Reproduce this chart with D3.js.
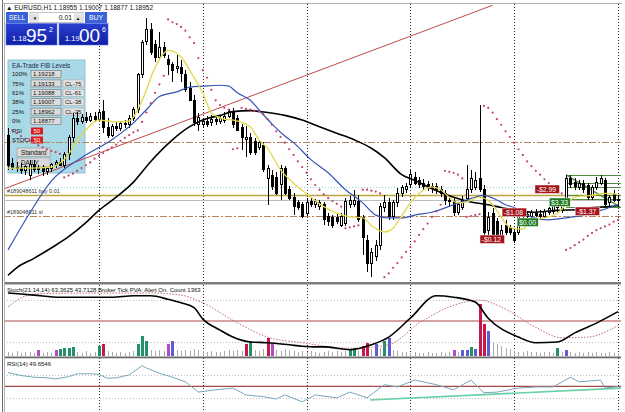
<!DOCTYPE html>
<html>
<head>
<meta charset="utf-8">
<script src="https://cdn.jsdelivr.net/npm/d3@7"></script>
<style>
  body { margin: 0; background: #fff; }
  svg { display: block; font-family: "Liberation Sans", Arial, sans-serif; }
</style>
</head>
<body>
<script>
const W = 625, H = 412

// EURUSD H1 candles
const open = [1.1964,1.1934,1.1930,1.1929,1.1926,1.1921,1.1933,1.1927,1.1929,1.1925,1.1929,1.1933,1.1935,1.1932,1.1943,1.1961,1.1982,1.1979,1.1983,1.1980,
  1.1984,1.1981,1.1989,1.1972,1.1964,1.1973,1.1971,1.1976,1.1975,1.1982,1.1991,1.2028,1.2063,1.2076,1.2060,1.2047,1.2057,1.2044,1.2039,1.2035,
  1.2036,1.2028,1.2014,1.2001,1.1975,1.1975,1.1978,1.1977,1.1981,1.1979,1.1980,1.1984,1.1989,1.1982,1.1972,1.1959,1.1962,1.1957,1.1951,1.1953,
  1.1918,1.1921,1.1919,1.1911,1.1929,1.1906,1.1898,1.1892,1.1890,1.1881,1.1893,1.1890,1.1888,1.1890,1.1877,1.1876,1.1876,1.1868,1.1870,1.1890,
  1.1890,1.1893,1.1876,1.1852,1.1828,1.1835,1.1847,1.1887,1.1892,1.1877,1.1892,1.1902,1.1906,1.1911,1.1919,1.1916,1.1913,1.1911,1.1909,1.1909,
  1.1906,1.1902,1.1895,1.1893,1.1882,1.1887,1.1897,1.1906,1.1908,1.1918,1.1906,1.1863,1.1881,1.1872,1.1855,1.1868,1.1865,1.1860,1.1861,1.1877,
  1.1878,1.1878,1.1881,1.1880,1.1878,1.1882,1.1883,1.1887,1.1884,1.1892,1.1918,1.1914,1.1908,1.1913,1.1910,1.1898,1.1908,1.1913,1.1916,1.1892,
  1.1901,1.18955]
const high = [1.1972,1.1940,1.1935,1.1934,1.1932,1.1938,1.1938,1.1932,1.1932,1.1930,1.1934,1.1938,1.1940,1.1946,1.1964,1.1988,1.1989,1.1986,1.1989,1.1988,
  1.1989,1.1991,1.2001,1.1982,1.1976,1.1978,1.1979,1.1980,1.1985,1.1994,1.2030,1.2065,1.2088,1.2083,1.2065,1.2074,1.2063,1.2049,1.2042,1.2049,
  1.2044,1.2033,1.2020,1.2007,1.1988,1.1982,1.1984,1.1985,1.1985,1.1985,1.1989,1.1992,1.1993,1.1985,1.1976,1.1974,1.1966,1.1961,1.1959,1.1957,
  1.1932,1.1927,1.1925,1.1932,1.1931,1.1910,1.1902,1.1895,1.1893,1.1897,1.1897,1.1896,1.1895,1.1893,1.1881,1.1879,1.1880,1.1881,1.1897,1.1899,
  1.1906,1.1900,1.1879,1.1858,1.1844,1.1852,1.1892,1.1900,1.1897,1.1895,1.1908,1.1911,1.1913,1.1927,1.1925,1.1920,1.1917,1.1915,1.1913,1.1913,
  1.1910,1.1906,1.1899,1.1897,1.1893,1.1899,1.1932,1.1927,1.1925,1.1996,1.1911,1.1882,1.1887,1.1876,1.1868,1.1874,1.1868,1.1865,1.1882,1.1882,
  1.1883,1.1884,1.1885,1.1884,1.1885,1.1888,1.1890,1.1893,1.1897,1.19218,1.1922,1.1918,1.1916,1.1916,1.1913,1.1911,1.1919,1.1922,1.1918,1.1900,
  1.1906,1.19007]
const low = [1.1927,1.1927,1.1925,1.1923,1.1922,1.1916,1.1925,1.1923,1.1921,1.1922,1.1925,1.1929,1.1931,1.1929,1.1938,1.1957,1.1975,1.1976,1.1977,1.1978,
  1.1978,1.1979,1.1966,1.1961,1.1962,1.1968,1.1968,1.1972,1.1972,1.1979,1.1988,1.2025,1.2060,1.2049,1.2042,1.2044,1.2046,1.2028,1.2020,1.2030,
  1.2020,1.2010,1.2000,1.1974,1.1968,1.1972,1.1973,1.1974,1.1975,1.1976,1.1977,1.1982,1.1972,1.1968,1.1948,1.1941,1.1943,1.1943,1.1948,1.1925,
  1.1890,1.1906,1.1900,1.1895,1.1900,1.1895,1.1879,1.1884,1.1876,1.1878,1.1888,1.1887,1.1884,1.1868,1.1867,1.1865,1.1870,1.1866,1.1867,1.1887,
  1.1888,1.1872,1.1837,1.1818,1.1813,1.1830,1.1842,1.1882,1.1874,1.1874,1.1888,1.1898,1.1902,1.1908,1.1911,1.1908,1.1906,1.1905,1.1902,1.1901,
  1.1898,1.1890,1.1888,1.1878,1.1879,1.1884,1.1895,1.1902,1.1906,1.1904,1.1852,1.1858,1.1852,1.1850,1.1852,1.1858,1.1858,1.1849,1.1858,1.1874,
  1.1874,1.1876,1.1877,1.1874,1.1876,1.1879,1.1880,1.1882,1.1881,1.1890,1.1908,1.1906,1.1906,1.1902,1.1895,1.1895,1.1906,1.1911,1.18877,1.1888,
  1.1893,1.18877]
const close = [1.1932,1.1930,1.1928,1.1926,1.1931,1.1933,1.1927,1.1929,1.1925,1.1928,1.1933,1.1935,1.1932,1.1943,1.1961,1.1982,1.1979,1.1983,1.1980,1.1984,
  1.1981,1.1988,1.1972,1.1964,1.1973,1.1971,1.1976,1.1975,1.1982,1.1991,1.2028,1.2062,1.2076,1.2052,1.2047,1.2057,1.2049,1.2039,1.2033,1.2037,
  1.2030,1.2012,1.2001,1.1977,1.1983,1.1978,1.1975,1.1981,1.1978,1.1982,1.1984,1.1989,1.1975,1.1969,1.1961,1.1962,1.1946,1.1946,1.1956,1.1927,
  1.1929,1.1909,1.1902,1.1929,1.1902,1.1897,1.1888,1.1887,1.1878,1.1892,1.1890,1.1893,1.1892,1.1874,1.1872,1.1868,1.1872,1.1877,1.1893,1.1895,
  1.1895,1.1874,1.1855,1.1828,1.1839,1.1847,1.1888,1.1892,1.1877,1.1892,1.1902,1.1908,1.1909,1.1922,1.1913,1.1911,1.1909,1.1908,1.1907,1.1906,
  1.1902,1.1895,1.1893,1.1882,1.1890,1.1895,1.1906,1.1918,1.1916,1.1906,1.1861,1.1876,1.1856,1.1856,1.1863,1.1861,1.1861,1.1852,1.1878,1.1879,
  1.1880,1.1882,1.1879,1.1878,1.1883,1.1886,1.1888,1.1890,1.1893,1.1918,1.1911,1.1909,1.1913,1.1906,1.1898,1.1908,1.1914,1.1918,1.1890,1.1898,
  1.1895,1.18952]

// moving averages, [bar, price]
const maFast = [[0,1.1929],[5,1.1929],[10,1.1930],[13,1.1938],[17,1.1964],[21,1.1980],[25,1.1978],[28,1.1979],[31,1.2001],[34,1.2036],[36,1.2051],
  [37,1.2054],[40,1.2047],[42,1.2033],[45,1.2009],[47,1.1988],[50,1.1981],[52,1.1980],[56,1.1973],[58,1.1959],[60,1.1950],[63,1.1927],[66,1.1913],
  [70,1.1898],[73,1.1888],[76,1.1881],[79,1.1877],[82,1.1876],[84,1.1868],[87,1.1861],[89,1.1865],[91,1.1878],[93,1.1892],[95,1.1902],[98,1.1909],
  [100,1.1906],[102,1.1898],[104,1.1892],[106,1.1893],[109,1.1898],[112,1.1890],[114,1.1877],[116,1.1866],[119,1.1864],[121,1.1874],[124,1.1876],
  [127,1.1881],[129,1.1890],[131,1.1898],[135,1.1900],[138,1.1902],[141,1.1901]]
const maMid = [[0,1.1842],[5,1.1881],[10,1.1915],[17,1.1940],[24,1.1959],[29,1.1977],[32,1.1991],[35,1.2005],[39,1.2010],[42,1.2015],[45,1.2016],
  [49,1.2017],[51,1.2016],[53,1.2009],[56,1.2001],[58,1.1991],[61,1.1976],[64,1.1963],[66,1.1956],[70,1.1938],[74,1.1924],[78,1.1906],[82,1.1892],
  [85,1.1879],[88,1.1876],[91,1.1876],[94,1.1879],[98,1.1882],[103,1.1890],[106,1.1895],[108,1.1898],[110,1.1900],[113,1.1895],[115,1.1890],
  [117,1.1887],[121,1.1877],[125,1.1874],[129,1.1876],[133,1.1879],[137,1.1884],[141,1.1890]]
const maSlow = [[0,1.1815],[2,1.1823],[6,1.1833],[10,1.1844],[14,1.1856],[18,1.1871],[21,1.1884],[25,1.1898],[29,1.1914],[33,1.1936],[38,1.1959],
  [42,1.1973],[45,1.1980],[49,1.1985],[52,1.1989],[56,1.1990],[60,1.1988],[64,1.1985],[68,1.1980],[72,1.1973],[76,1.1966],[80,1.1959],[84,1.1950],
  [87,1.1940],[91,1.1922],[94,1.1916],[98,1.1907],[103,1.1898],[107,1.1893],[111,1.1890],[114,1.1887],[118,1.1884],[121,1.1882],[127,1.1884],
  [132,1.1885],[135,1.1887],[139,1.1888],[141,1.1889]]

// parabolic SAR, one value per bar
const sar = [null,1.1969,1.1966,1.1963,1.1960,1.1958,1.1956,1.1953,1.1951,1.1949,1.1947,1.1946,1.1944,
  1.1919,1.1921,1.1923,1.1926,1.1929,1.1932,1.1935,1.1939,1.1942,1.1945,1.1948,1.1951,1.1954,1.1958,1.1961,1.1964,1.1967,1.1969,1.1978,1.1988,1.1998,1.2009,1.2018,1.2027,
  1.2087,1.2084,1.2082,1.2079,1.2075,1.2068,1.2062,1.2046,1.2033,1.2025,1.2012,1.2001,1.1996,1.1993,1.1991,
  1.1949,1.1950,
  1.1993,1.1992,1.1991,1.1990,1.1989,1.1986,1.1981,1.1975,1.1968,1.1962,1.1956,1.1949,1.1943,1.1936,1.1930,1.1924,1.1917,1.1911,1.1906,1.1901,1.1897,1.1894,1.1891,1.1888,
  1.1865,1.1866,1.1867,1.1868,
  1.1906,1.1906,1.1905,1.1904,1.1902,
  1.1813,1.1817,1.1823,1.1828,1.1834,1.1840,1.1845,1.1851,1.1858,1.1864,1.1870,1.1877,1.1883,1.1890,
  1.1926,1.1925,1.1924,1.1922,1.1918,
  1.1877,1.1878,1.1879,1.1880,
  1.1995,1.1993,1.1988,1.1981,1.1975,1.1968,1.1962,1.1956,1.1949,1.1943,1.1936,1.1931,1.1926,1.1922,1.1917,1.1913,1.1909,1.1906,1.1902,
  1.1842,1.1844,1.1847,1.1850,1.1853,1.1857,1.1860,1.1863,1.1865,1.1867,1.1869,1.1872,1.1874]

// tick volume and PVA class (n normal, g green, r red, b blue, p purple)
const volume = [400,300,500,300,400,400,300,600,300,400,300,600,700,800,800,900,400,300,500,300,400,1000,1200,
  500,400,300,400,300,400,500,1200,2000,1500,600,500,600,500,1200,1500,
  600,500,600,500,700,600,500,400,500,400,400,500,600,500,600,500,1200,1500,600,500,700,1800,1200,
  600,500,700,600,500,400,500,400,500,400,300,400,500,400,500,400,500,600,800,500,1000,1300,700,1200,800,1500,1800,
  600,500,400,400,300,400,300,300,400,300,300,400,300,400,600,400,600,600,900,700,5200,3200,2500,
  1400,1200,1000,800,700,500,400,400,500,400,400,300,400,400,300,800,400,600,
  400,300,400,300,400,300,400,300,300,400,300,300]
const pva = ('nnnnnnn' + 'p' + 'nnn' + 'p' + 'gggg' + 'nnnnn' + 'gr' + 'nnnnnnn' + 'ggg' + 'nnnn' + 'pb' +
  'nnnnnnnnnnnnnnnn' + 'rg' + 'nnn' + 'rp' + 'nnnnnnnnnnnnnnnnn' + 'gg' + 'n' + 'rr' + 'n' + 'b' + 'n' + 'gb' +
  'nnnnnnnnnnnnnn' + 'p' + 'n' + 'bbgbrrb' + 'nnnnnnnnnnnnnnn' + 'g' + 'n' + 'b' + 'nnnnnnnnnnnn').split('')

// stochastic (main, signal) and RSI, [bar, value]
const stochMain = [[0,90],[6,87],[12,84],[18,84],[24,84],[29,86],[33,86],[37,81],[40,76],[43,69],[45,53],[49,37],[52,27],[56,20],[60,19],
  [65,16],[68,14],[71,13],[73,13],[79,9],[84,16],[88,27],[93,54],[99,86],[103,84],[108,77],[111,54],[118,27],[122,19],[127,20],[131,33],
  [136,47],[141,63.3625]]
const stochSignal = [[0,70],[3,83],[7,89],[21,90],[33,90],[40,87],[45,76],[52,51],[60,27],[68,19],[79,11],[88,16],[95,47],[102,70],
  [109,80],[114,70],[122,41],[128,26],[134,27],[141,43.7128]]
const rsi = [[0,74],[3,69],[6,66],[9,65],[11,63],[14,67],[16,72],[19,72],[21,71],[23,64],[25,65],[28,70],[31,86],[32,82],[35,73],
  [38,66],[41,58],[44,40],[48,44],[52,47],[55,35],[59,32],[62,28],[64,35],[68,23],[71,35],[76,30],[79,40],[83,30],[87,53],[90,49],
  [94,61],[99,53],[103,44],[107,61],[110,39],[113,40],[118,47],[122,49],[126,49],[130,66],[132,58],[137,61],[138,47],[141,49.6546]]
const rsiTrend = [[83.7,26.2],[142.5,47.2]]

// chart objects
const symbol = 'EURUSD,H1'
const bid = 1.18952, ask = 1.19006
const fibLevels = [1.19218, 1.19133, 1.19088, 1.19007, 1.18962, 1.18877]
const fibNames = ['100%', '75%', '61%', '38%', '25%', '0%']
const clButtons = ['CL-75', 'CL-61', 'CL-38', 'CL-25']
const fibStartBar = 129
const trendLine = [[-2, 1.1905], [112, 1.2102]]
const dayStarts = [21, 45, 69, 93, 117, 141]
const tpPrice = 1.1957, buyPrice = 1.19005, slPrice = 1.1878
const ticket = '#189048611'
const tradeLabels = [
  {text: '-$0.12', bar: 109.1, price: 1.18578, win: false},
  {text: '-$1.08', bar: 114.2, price: 1.18865, win: false},
  {text: '$0.00', bar: 117.7, price: 1.18759, win: true},
  {text: '-$2.99', bar: 121.8, price: 1.19110, win: false},
  {text: '$3.33', bar: 125.1, price: 1.18972, win: true},
  {text: '-$1.37', bar: 131.1, price: 1.18876, win: false}
]

const f5 = d3.format('.5f')

const svg = d3.select('body').append('svg')
  .attr('width', W)
  .attr('height', H)
svg.append('rect').attr('width', W).attr('height', H).attr('fill', '#fff')

const x = d3.scaleLinear().domain([0, 141]).range([8, 618])
const y = d3.scaleLinear().domain([1.1810, 1.2097]).range([280, 10])
const yStoch = d3.scaleLinear().domain([0, 100]).range([356, 286])
const yVol = d3.scaleLinear().domain([0, 7000]).range([356, 286])
const yRsi = d3.scaleLinear().domain([0, 100]).range([415, 357.75])

const defs = svg.append('defs')
function clip(id, y0, y1) {
  defs.append('clipPath').attr('id', id).append('rect')
    .attr('x', 4).attr('y', y0).attr('width', 617).attr('height', y1 - y0)
}
clip('cMain', 4, 282)
clip('cStoch', 285, 356.5)
clip('cRsi', 358, 412)

const main = svg.append('g').attr('clip-path', 'url(#cMain)')
const stoch = svg.append('g').attr('clip-path', 'url(#cStoch)')
const rsiG = svg.append('g').attr('clip-path', 'url(#cRsi)')

// day separators
for (const [g, y0, y1] of [[main, 4, 282], [stoch, 285, 357], [rsiG, 358, 412]]) {
  g.append('g').selectAll('line').data(dayStarts).join('line')
    .attr('x1', d => Math.round(x(d)) + 0.5).attr('x2', d => Math.round(x(d)) + 0.5)
    .attr('y1', y0).attr('y2', y1)
    .attr('stroke', '#222').attr('stroke-dasharray', '1,2')
}

// fib panel sits behind the chart
const panel = main.append('g')
panel.append('rect').attr('x', 8).attr('y', 60).attr('width', 77).attr('height', 113)
  .attr('fill', '#a9d8e6').attr('stroke', '#8fc3d3')
panel.append('text').attr('x', 12).attr('y', 67.5).attr('font-size', 6.3).attr('fill', '#1a2a50')
  .text('EA-Trade FIB Levels')
const rowY = i => 74 + 9.4 * i
const rows = panel.selectAll('g.row').data(fibLevels).join('g').attr('class', 'row')
rows.append('text').attr('x', 12).attr('y', (d, i) => rowY(i) + 2.2).attr('font-size', 6).attr('fill', '#111')
  .text((d, i) => fibNames[i])
rows.append('rect').attr('x', 31).attr('y', (d, i) => rowY(i) - 3.5).attr('width', 30).attr('height', 7)
  .attr('fill', '#dcdcdc').attr('stroke', '#6e6e6e').attr('stroke-width', 0.6)
rows.append('text').attr('x', 33).attr('y', (d, i) => rowY(i) + 2.2).attr('font-size', 6).attr('fill', '#111')
  .text(d => f5(d))
const cl = panel.selectAll('g.cl').data(clButtons).join('g').attr('class', 'cl')
cl.append('rect').attr('x', 63).attr('y', (d, i) => rowY(i + 1) - 3.5).attr('width', 21).attr('height', 7)
  .attr('fill', '#e4e4e4').attr('stroke', '#b0b0b0').attr('stroke-width', 0.6)
cl.append('text').attr('x', 65).attr('y', (d, i) => rowY(i + 1) + 2.2).attr('font-size', 6).attr('fill', '#111')
  .text(d => d)
for (const [label, ry] of [['RSI', 131], ['STOCH', 140]]) {
  panel.append('text').attr('x', 12).attr('y', ry + 2.2).attr('font-size', 6).attr('fill', '#111').text(label)
  panel.append('rect').attr('x', 31).attr('y', ry - 3.5).attr('width', 12).attr('height', 7).attr('fill', '#e01818')
  panel.append('text').attr('x', 33.5).attr('y', ry + 2.2).attr('font-size', 6).attr('fill', '#fff').text('50')
}
for (const [label, by] of [['Standard', 148], ['DAILY', 158]]) {
  panel.append('rect').attr('x', 17).attr('y', by).attr('width', 33).attr('height', 8.5)
    .attr('fill', '#d9d9d9').attr('stroke', '#9a9a9a').attr('stroke-width', 0.6)
  panel.append('text').attr('x', 21).attr('y', by + 6.5).attr('font-size', 6.3).attr('fill', '#111').text(label)
}

// horizontal order / level lines
function hline(price, stroke, dash, width) {
  main.append('line').attr('x1', 4).attr('x2', 621)
    .attr('y1', Math.round(y(price)) + 0.5).attr('y2', Math.round(y(price)) + 0.5)
    .attr('stroke', stroke).attr('stroke-dasharray', dash).attr('stroke-width', width)
}
hline(tpPrice, '#b8845a', '7,2,2,2', 1)
hline(fibLevels[2], '#86d2dc', '1,2', 1)
hline(buyPrice, '#bda443', null, 1.5)
hline(bid, '#bdbdbd', null, 1)
hline(slPrice, '#b8845a', '7,2,2,2', 1)
main.append('text').attr('x', 7).attr('y', y(buyPrice) - 2).attr('font-size', 5.5).attr('fill', '#333')
  .text(ticket + ' buy 0.01')
main.append('text').attr('x', 7).attr('y', y(slPrice) - 2).attr('font-size', 5.5).attr('fill', '#333')
  .text(ticket + ' sl')

// trend line
main.append('line')
  .attr('x1', x(trendLine[0][0])).attr('y1', y(trendLine[0][1]))
  .attr('x2', x(trendLine[1][0])).attr('y2', y(trendLine[1][1]))
  .attr('stroke', '#c24a4a').attr('stroke-width', 1)

// fibo on the right
main.append('g').selectAll('line').data(fibLevels).join('line')
  .attr('x1', x(fibStartBar)).attr('x2', 621)
  .attr('y1', d => Math.round(y(d)) + 0.5).attr('y2', d => Math.round(y(d)) + 0.5)
  .attr('stroke', '#4f8f3f')
main.append('line')
  .attr('x1', x(fibStartBar)).attr('y1', y(fibLevels[0]))
  .attr('x2', 620).attr('y2', y(fibLevels[5]))
  .attr('stroke', '#4f8f3f').attr('stroke-width', 1.3)

// candles
const bars = d3.range(open.length).map(i => ({i, o: open[i], h: high[i], l: low[i], c: close[i]}))
const cx = d => Math.round(x(d.i))
const candles = main.append('g').attr('shape-rendering', 'crispEdges')
candles.selectAll('line').data(bars).join('line')
  .attr('x1', d => cx(d) + 0.5).attr('x2', d => cx(d) + 0.5)
  .attr('y1', d => y(d.h)).attr('y2', d => y(d.l))
  .attr('stroke', '#000')
candles.selectAll('rect').data(bars).join('rect')
  .attr('x', d => cx(d) - 0.5).attr('width', 2)
  .attr('y', d => y(Math.max(d.o, d.c)))
  .attr('height', d => Math.max(0.5, Math.abs(y(d.o) - y(d.c))))
  .attr('fill', d => d.c >= d.o ? '#fff' : '#000')
  .attr('stroke', '#000')

// moving averages
const maLine = d3.line().x(d => x(d[0])).y(d => y(d[1])).curve(d3.curveMonotoneX)
main.append('path').attr('d', maLine(maSlow)).attr('fill', 'none').attr('stroke', '#000').attr('stroke-width', 1.6)
main.append('path').attr('d', maLine(maMid)).attr('fill', 'none').attr('stroke', '#3553b5').attr('stroke-width', 1.2)
main.append('path').attr('d', maLine(maFast)).attr('fill', 'none').attr('stroke', '#e3d84a').attr('stroke-width', 1.3)

// parabolic SAR
main.append('g').selectAll('circle').data(sar.map((v, i) => [i, v]).filter(d => d[1] != null)).join('circle')
  .attr('cx', d => x(d[0])).attr('cy', d => y(d[1])).attr('r', 1.1)
  .attr('fill', '#c2406e')

// trade result labels
const tl = main.append('g').selectAll('g').data(tradeLabels).join('g')
  .attr('transform', d => `translate(${x(d.bar)},${y(d.price)})`)
tl.append('rect').attr('width', d => d.text.length * 3.6 + 3).attr('height', 8.5)
  .attr('fill', d => d.win ? '#1f7a22' : '#a3151a').attr('stroke', '#fff').attr('stroke-width', 0.5)
tl.append('text').attr('x', 1.8).attr('y', 6.7).attr('font-size', 6.8).attr('fill', '#fff')
  .text(d => d.text)

// header text
svg.append('text').attr('x', 6).attr('y', 9.5).attr('font-size', 6.5).attr('fill', '#111')
  .text(`▲ ${symbol}  ${f5(open[141])} ${f5(high[141])} ${f5(low[141])} ${f5(close[141])}`)

// one-click trading panel
const oc = svg.append('g')
for (const [label, bx, bw] of [['SELL', 6, 22], ['BUY', 85, 22]]) {
  oc.append('rect').attr('x', bx).attr('y', 12).attr('width', bw).attr('height', 11).attr('fill', '#3a62d6')
  oc.append('text').attr('x', bx + bw / 2).attr('y', 20.3).attr('text-anchor', 'middle')
    .attr('font-size', 6.8).attr('fill', '#fff').text(label)
}
oc.append('rect').attr('x', 30).attr('y', 12.5).attr('width', 53).attr('height', 10)
  .attr('fill', '#fff').attr('stroke', '#9a9a9a').attr('stroke-width', 0.6)
oc.append('rect').attr('x', 31).attr('y', 13.5).attr('width', 8).attr('height', 8).attr('fill', '#e2e2e2')
oc.append('rect').attr('x', 74).attr('y', 13.5).attr('width', 8).attr('height', 8).attr('fill', '#e2e2e2')
oc.append('text').attr('x', 35).attr('y', 19.5).attr('text-anchor', 'middle').attr('font-size', 4.5).text('▼')
oc.append('text').attr('x', 78).attr('y', 19.5).attr('text-anchor', 'middle').attr('font-size', 4.5).text('▲')
oc.append('text').attr('x', 72).attr('y', 20).attr('text-anchor', 'end').attr('font-size', 6.8).attr('fill', '#111').text('0.01')
const grad = defs.append('linearGradient').attr('id', 'pxGrad').attr('x1', 0).attr('y1', 0).attr('x2', 0).attr('y2', 1)
grad.append('stop').attr('offset', 0).attr('stop-color', '#2a40d0')
grad.append('stop').attr('offset', 1).attr('stop-color', '#0f1fa8')
for (const [price, bx, bw] of [[bid, 6, 51], [ask, 59, 49]]) {
  const s = f5(price)
  oc.append('rect').attr('x', bx).attr('y', 23.5).attr('width', bw).attr('height', 21.5)
    .attr('fill', 'url(#pxGrad)').attr('stroke', '#4f6be6').attr('stroke-width', 0.6)
  oc.append('text').attr('x', bx + 6).attr('y', 41).attr('font-size', 7.5).attr('fill', '#fff').text(s.slice(0, 4))
  oc.append('text').attr('x', bx + 20).attr('y', 42).attr('font-size', 19).attr('fill', '#fff').text(s.slice(4, 6))
  oc.append('text').attr('x', bx + 43).attr('y', 31.5).attr('font-size', 7).attr('fill', '#fff').text(s.slice(6))
}

// stochastic window
for (const lv of [80, 20]) {
  stoch.append('line').attr('x1', 4).attr('x2', 621).attr('y1', Math.round(yStoch(lv)) + 0.5).attr('y2', Math.round(yStoch(lv)) + 0.5)
    .attr('stroke', '#bdbdbd').attr('stroke-dasharray', '1,2')
}
stoch.append('line').attr('x1', 4).attr('x2', 621).attr('y1', yStoch(50)).attr('y2', yStoch(50))
  .attr('stroke', '#d6a3a3').attr('stroke-width', 2)
const vb = stoch.append('g').attr('shape-rendering', 'crispEdges')
const pvaColor = {n: '#a9a9a9', g: '#24906a', r: '#c8184a', b: '#5c5cd6', p: '#b04cc8'}
vb.selectAll('rect').data(volume.map((v, i) => ({i, v, k: pva[i]}))).join('rect')
  .attr('x', d => d.k === 'n' ? cx(d) : cx(d) - 1)
  .attr('width', d => d.k === 'n' ? 1 : 3)
  .attr('y', d => yVol(d.v)).attr('height', d => yVol(0) - yVol(d.v))
  .attr('fill', d => pvaColor[d.k])
const sLine = d3.line().x(d => x(d[0])).y(d => yStoch(d[1])).curve(d3.curveMonotoneX)
stoch.append('path').attr('d', sLine(stochSignal)).attr('fill', 'none')
  .attr('stroke', '#c06a6a').attr('stroke-dasharray', '1.5,1.5')
stoch.append('path').attr('d', sLine(stochMain)).attr('fill', 'none')
  .attr('stroke', '#000').attr('stroke-width', 1.6)
svg.append('text').attr('x', 7).attr('y', 291.5).attr('font-size', 6).attr('fill', '#111')
  .text('Stoch(21,14,14) 63.3625 43.7128   Broker Tick PVA:    Alert On.   Count  1363')

// RSI window
for (const lv of [70, 30]) {
  rsiG.append('line').attr('x1', 4).attr('x2', 621).attr('y1', Math.round(yRsi(lv)) + 0.5).attr('y2', Math.round(yRsi(lv)) + 0.5)
    .attr('stroke', '#bdbdbd').attr('stroke-dasharray', '1,2')
}
rsiG.append('line').attr('x1', 4).attr('x2', 621).attr('y1', yRsi(50)).attr('y2', yRsi(50))
  .attr('stroke', '#a44848').attr('stroke-width', 1.3)
const rLine = d3.line().x(d => x(d[0])).y(d => yRsi(d[1]))
rsiG.append('path').attr('d', rLine(rsiTrend)).attr('fill', 'none')
  .attr('stroke', '#66d1a4').attr('stroke-width', 1.6)
rsiG.append('path').attr('d', rLine(rsi)).attr('fill', 'none')
  .attr('stroke', '#7aa6bd').attr('stroke-width', 1)
svg.append('text').attr('x', 7).attr('y', 366).attr('font-size', 6).attr('fill', '#111')
  .text('RSI(14) 49.6546')

// window frame and separators
svg.append('rect').attr('x', 4).attr('y', 282).attr('width', 617).attr('height', 2.5).attr('fill', '#7c7c7c')
svg.append('rect').attr('x', 4).attr('y', 356.5).attr('width', 617).attr('height', 1.8).attr('fill', '#6c6c6c')
svg.append('line').attr('x1', 2.5).attr('x2', 2.5).attr('y1', 0).attr('y2', H).attr('stroke', '#6a6a6a')
svg.append('line').attr('x1', 4.5).attr('x2', 4.5).attr('y1', 3).attr('y2', H).attr('stroke', '#b0b0b0')
svg.append('line').attr('x1', 2).attr('x2', 622).attr('y1', 3.5).attr('y2', 3.5).attr('stroke', '#b0b0b0')
</script>
</body>
</html>
